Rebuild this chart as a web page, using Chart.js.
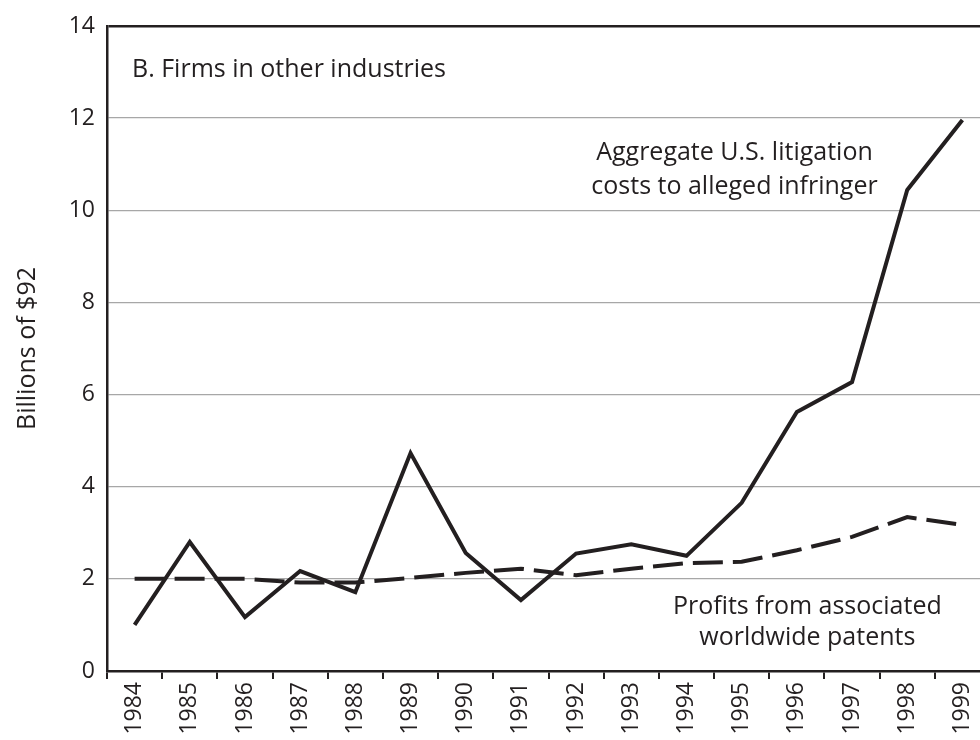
<!DOCTYPE html>
<html>
<head>
<meta charset="utf-8">
<script src="https://cdn.jsdelivr.net/npm/chart.js@4"></script>
<style>
  html, body { margin: 0; padding: 0; background: #fff; overflow: hidden; }
  #wrap { width: 1000px; height: 740px; position: relative; }
</style>
</head>
<body>
<div id="wrap"><canvas id="chart"></canvas></div>
<script>
// Datos
const years = ['1984', '1985', '1986', '1987', '1988', '1989', '1990', '1991',
  '1992', '1993', '1994', '1995', '1996', '1997', '1998', '1999'];
const litigationCosts = [1.0, 2.8, 1.17, 2.17, 1.71, 4.73, 2.56, 1.54,
  2.55, 2.75, 2.5, 3.65, 5.62, 6.27, 10.44, 11.96];
const patentProfits = [2.0, 2.0, 2.0, 1.92, 1.92, 2.02, 2.13, 2.22,
  2.08, 2.22, 2.34, 2.37, 2.62, 2.91, 3.34, 3.17];
const yTicks = [0, 2, 4, 6, 8, 10, 12, 14];

const INK = '#231f20';
const FONT = '"Open Sans", sans-serif';

// Textos del gráfico: rótulo del panel y etiquetas de las series
const textPlugin = {
  id: 'chartTexts',
  afterDraw(chart) {
    const { ctx, scales: { x, y } } = chart;
    ctx.save();
    ctx.fillStyle = INK;
    ctx.font = '25px ' + FONT;
    ctx.textBaseline = 'middle';

    ctx.textAlign = 'left';
    ctx.fillText('B. Firms in other industries', 132, y.getPixelForValue(13.05));

    ctx.textAlign = 'center';
    const cx1 = x.getPixelForValue(10.87);
    ctx.fillText('Aggregate U.S. litigation', cx1, y.getPixelForValue(11.25));
    ctx.fillText('costs to alleged infringer', cx1, y.getPixelForValue(10.5));

    const cx2 = x.getPixelForValue(12.19);
    ctx.fillText('Profits from associated', cx2, y.getPixelForValue(1.4));
    ctx.fillText('worldwide patents', cx2, y.getPixelForValue(0.72));

    // Título del eje Y
    ctx.translate(28, (y.top + y.bottom) / 2);
    ctx.rotate(-Math.PI / 2);
    ctx.fillText('Billions of $92', 0, 0);
    ctx.restore();
  }
};

new Chart(document.getElementById('chart'), {
  type: 'line',
  data: {
    labels: years,
    datasets: [
      {
        label: 'Aggregate U.S. litigation costs to alleged infringer',
        data: litigationCosts,
        borderColor: INK,
        borderWidth: 4,
        borderJoinStyle: 'miter',
        pointRadius: 0,
        tension: 0
      },
      {
        label: 'Profits from associated worldwide patents',
        data: patentProfits,
        borderColor: INK,
        borderWidth: 4,
        borderDash: [30, 10],
        pointRadius: 0,
        tension: 0
      }
    ]
  },
  options: {
    responsive: true,
    maintainAspectRatio: false,
    animation: false,
    layout: { padding: { top: 26, right: 10, left: 0, bottom: 0 } },
    plugins: {
      legend: { display: false },
      tooltip: { enabled: false }
    },
    scales: {
      x: {
        offset: true,
        afterFit(scale) { scale.height = 69; },
        grid: {
          offset: true,
          drawOnChartArea: false,
          drawTicks: true,
          tickLength: 8,
          color: INK,
          lineWidth: 2
        },
        border: { display: true, color: INK, width: 2.5 },
        ticks: {
          color: INK,
          font: { family: FONT, size: 23 },
          minRotation: 90,
          maxRotation: 90,
          autoSkip: false,
          padding: 3
        }
      },
      y: {
        min: 0,
        max: 14,
        afterFit(scale) { scale.width = 107; },
        afterBuildTicks(scale) {
          scale.ticks = yTicks.map(v => ({ value: v }));
        },
        grid: {
          drawTicks: false,
          color: ctx => (ctx.tick && ctx.tick.value === 14 ? INK : '#a7a7a7'),
          lineWidth: ctx => (ctx.tick && ctx.tick.value === 14 ? 2.5 : 1.3)
        },
        border: { display: true, color: INK, width: 2.5 },
        ticks: {
          color: INK,
          font: { family: FONT, size: 23 },
          padding: 12
        }
      }
    }
  },
  plugins: [textPlugin]
});
</script>
</body>
</html>
